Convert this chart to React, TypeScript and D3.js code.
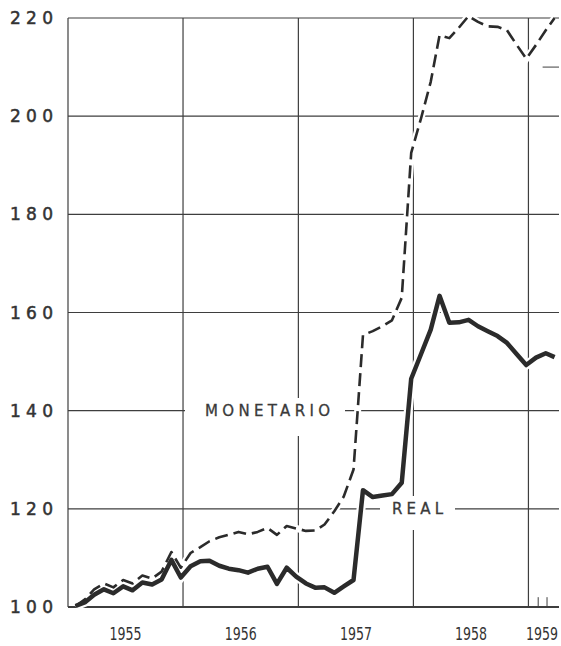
import { useEffect, useRef } from 'react'
import * as d3 from 'd3'

const W = 561, H = 646
const M = { left: 68, right: 559, top: 18, bottom: 607 }

// indice mensile, gen 1955 - mar 1959
const real = [
  100.2, 101, 102.5, 103.6, 102.8, 104.2, 103.4, 105, 104.6, 105.6, 109.6, 106,
  108.3, 109.3, 109.4, 108.4, 107.8, 107.5, 107, 107.8, 108.2, 104.7, 108, 106.2,
  104.8, 103.9, 104, 102.9, 104.2, 105.5, 123.8, 122.4, 122.7, 123, 125.3, 146.5,
  151.5, 156.5, 163.4, 157.9, 158, 158.5, 157.2, 156.2, 155.2, 153.8, 151.5, 149.3,
  150.8, 151.7, 150.9,
]
const monetario = [
  100.2, 101.6, 103.6, 104.8, 104, 105.5, 104.8, 106.4, 105.8, 107.2, 111.2, 108,
  111, 112.2, 113.4, 114.2, 114.7, 115.3, 114.8, 115.3, 116.1, 114.7, 116.5, 116,
  115.5, 115.6, 116.8, 119.5, 122.5, 128, 155.4, 156.2, 157.2, 158.4, 163, 192.5,
  199.5, 207, 216.5, 215.9, 218, 220.4, 219.2, 218.3, 218.2, 217.5, 214.5, 211.7,
  214.5, 217.5, 220,
]
const years = [1955, 1956, 1957, 1958, 1959]
const yTicks = [100, 120, 140, 160, 180, 200, 220]

export default function App() {
  const ref = useRef<SVGSVGElement>(null)

  useEffect(() => {
    const svg = d3.select(ref.current)
    svg.selectAll('*').remove()

    const x = d3.scaleTime([new Date(1955, 0, 1), new Date(1959, 3, 8)], [M.left, M.right])
    const y = d3.scaleLinear([100, 220], [M.bottom, M.top])
    const date = (i: number) => new Date(1955, i, 25)
    const ink = '#2b2b2b'

    // griglia
    const g = svg.append('g').attr('stroke', '#3e3e3e').attr('stroke-width', 1.2)
    yTicks.forEach((v) => {
      g.append('line').attr('x1', M.left).attr('x2', M.right).attr('y1', y(v)).attr('y2', y(v))
        .attr('stroke-width', v === 100 ? 1.9 : 1.2)
    })
    years.forEach((yr) => {
      const xx = x(new Date(yr, 0, 1))
      g.append('line').attr('x1', xx).attr('x2', xx).attr('y1', M.top).attr('y2', M.bottom)
    })
    // segni minori
    ;[new Date(1959, 1, 1), new Date(1959, 2, 1)].forEach((d) => {
      g.append('line').attr('x1', x(d)).attr('x2', x(d)).attr('y1', y(100)).attr('y2', y(102)).attr('stroke-width', 1)
    })
    g.append('line').attr('x1', x(new Date(1959, 1, 15))).attr('x2', M.right).attr('y1', y(210)).attr('y2', y(210)).attr('stroke-width', 1)

    // sfondo delle etichette
    svg.append('rect').attr('x', 185).attr('y', 398).attr('width', 160).attr('height', 38).attr('fill', '#fff')
    svg.append('rect').attr('x', 380).attr('y', 496).attr('width', 75).attr('height', 34).attr('fill', '#fff')

    const line = d3.line<number>().x((_, i) => x(date(i))).y((v) => y(v)).curve(d3.curveLinear)

    // aloni bianchi
    svg.append('path').attr('d', line(monetario)).attr('fill', 'none').attr('stroke', '#fff').attr('stroke-width', 7)
    svg.append('path').attr('d', line(real)).attr('fill', 'none').attr('stroke', '#fff').attr('stroke-width', 9)

    svg.append('path').attr('d', line(monetario)).attr('fill', 'none').attr('stroke', ink)
      .attr('stroke-width', 2.6).attr('stroke-dasharray', '13,6').attr('stroke-linejoin', 'round')
    svg.append('path').attr('d', line(real)).attr('fill', 'none').attr('stroke', ink)
      .attr('stroke-width', 4.5).attr('stroke-linejoin', 'round')

    // etichette asse y
    yTicks.forEach((v) => {
      svg.append('text').attr('x', 53).attr('y', y(v)).attr('dy', '0.36em')
        .attr('text-anchor', 'end').attr('font-family', 'DejaVu Sans').attr('font-size', 17)
        .attr('textLength', 43).attr('lengthAdjust', 'spacing')
        .attr('stroke', '#333').attr('stroke-width', 0.5)
        .attr('fill', '#333').text(v)
    })
    // etichette anni (cifre strette)
    years.forEach((yr) => {
      const a = x(new Date(yr, 0, 1))
      const b = Math.min(x(new Date(yr + 1, 0, 1)), M.right)
      const cx = Math.min((a + b) / 2, W - 19)
      svg.append('g').attr('transform', `translate(${cx},640) scale(0.74,1)`)
        .append('text').attr('text-anchor', 'middle').attr('font-family', 'DejaVu Sans')
        .attr('font-size', 17).attr('fill', '#333').text(yr)
    })

    const label = (t: string, lx: number, ly: number, len: number) =>
      svg.append('text').attr('x', lx).attr('y', ly).attr('dy', '0.36em')
        .attr('font-family', 'DejaVu Sans').attr('font-size', 15)
        .attr('textLength', len).attr('lengthAdjust', 'spacing')
        .attr('stroke', '#3a3a3a').attr('stroke-width', 0.3)
        .attr('fill', '#3a3a3a').text(t)
    label('MONETARIO', 205, y(140), 125)
    label('REAL', 392, y(120), 51)
  }, [])

  return (
    <div style={{ position: 'absolute', left: 0, top: 0, background: '#fff' }}>
      <svg ref={ref} width={W} height={H} viewBox={`0 0 ${W} ${H}`} style={{ display: 'block' }} />
    </div>
  )
}
